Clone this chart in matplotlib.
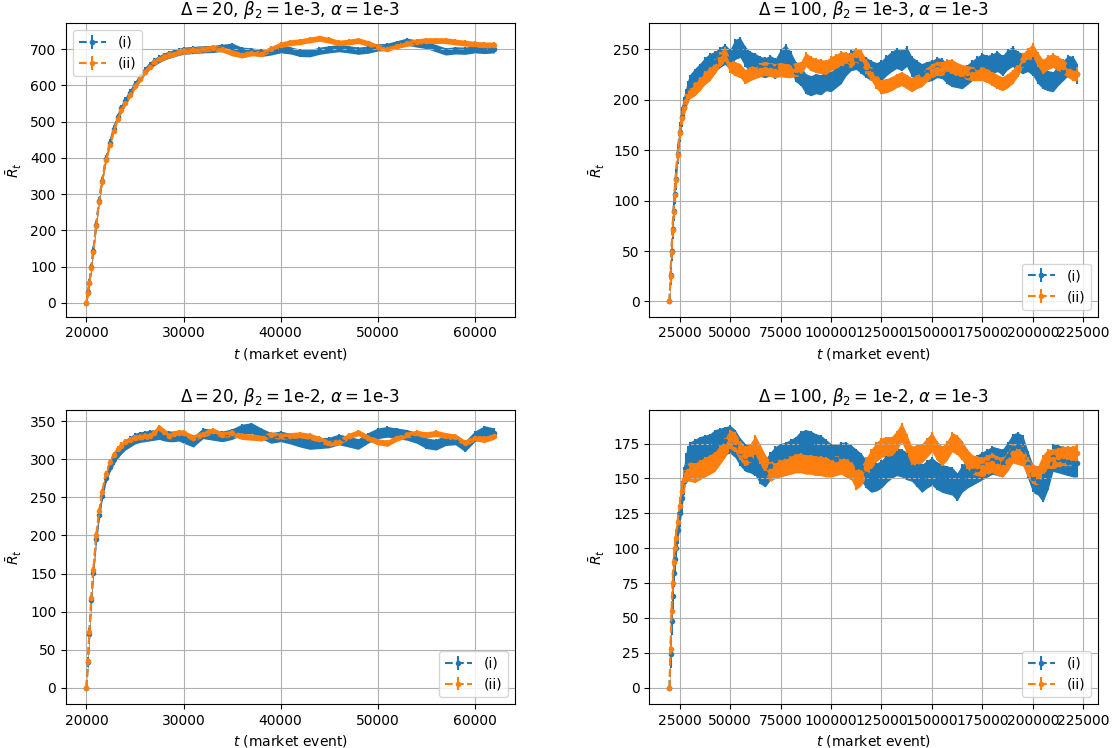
import matplotlib
matplotlib.use("Agg")
import matplotlib.pyplot as plt
import numpy as np

# ---------------------------------------------------------------
# Time grids (market events)
# ---------------------------------------------------------------
t_delta20 = [20000, 20150, 20300, 20500, 20700, 21000, 21300, 21600, 22000,
             22400, 22800, 23200, 23600, 24000, 24500, 25000, 25500, 26000,
             26500, 27000, 27500, 28000, 28500, 29000, 29500, 30000,
             31000, 32000, 33000, 34000, 35000, 36000, 37000, 38000, 39000,
             40000, 41000, 42000, 43000, 44000, 45000, 46000, 47000, 48000,
             49000, 50000, 51000, 52000, 53000, 54000, 55000, 56000, 57000,
             58000, 59000, 60000, 61000, 62000]

t_delta100 = [20000, 20500, 21000, 21500, 22000, 22500, 23000, 24000, 25000,
              26000, 27000, 28000, 29000, 30000,
              32500, 35000, 37500, 40000, 42500, 45000, 47500, 50000, 52500,
              55000, 57500, 60000, 62500, 65000, 67500, 70000, 72500, 75000,
              77500, 80000, 82500, 85000, 87500, 90000, 92500, 95000, 97500,
              100000, 102500, 105000, 107500, 110000, 112500, 115000, 117500,
              120000, 122500, 125000, 127500, 130000, 132500, 135000, 137500,
              140000, 142500, 145000, 147500, 150000, 152500, 155000, 157500,
              160000, 162500, 165000, 167500, 170000, 172500, 175000, 177500,
              180000, 182500, 185000, 187500, 190000, 192500, 195000, 197500,
              200000, 202500, 205000, 207500, 210000, 212500, 215000, 217500,
              220000, 222000]

# ---------------------------------------------------------------
# Average reward, Delta = 20, beta_2 = 1e-3
# ---------------------------------------------------------------
r_d20_b3_i = [0, 29, 56, 98, 144, 216, 282, 337, 397, 441, 480, 512, 537,
              557, 580, 602, 621, 640, 654, 665, 673, 680, 685, 689, 693, 696,
              698, 700, 701, 704, 707, 696, 694, 690, 694, 700, 697, 690, 689,
              696, 700, 703, 700, 696, 699, 705, 707, 714, 721, 716, 712, 703,
              694, 697, 696, 700, 698, 700]
r_d20_b3_ii = [0, 28, 54, 96, 141, 213, 279, 334, 393, 436, 474, 507, 532,
               552, 575, 598, 617, 638, 652, 664, 672, 679, 684, 688, 692, 695,
               697, 700, 703, 700, 690, 684, 690, 688, 700, 712, 718, 721, 726,
               730, 725, 717, 720, 724, 716, 706, 702, 710, 716, 721, 724, 724,
               724, 720, 717, 714, 712, 712]
err_d20_b3_i = 10
err_d20_b3_ii = 8

# ---------------------------------------------------------------
# Average reward, Delta = 100, beta_2 = 1e-3
# ---------------------------------------------------------------
r_d100_b3_i = [0, 26, 50, 72, 90, 107, 121, 146, 168, 183, 193, 201, 209, 215,
               221, 226, 232, 236, 238, 242, 245, 240, 250, 252, 243, 238, 236,
               233, 232, 234, 231, 240, 245, 238, 228, 224, 216, 214, 216, 215,
               219, 218, 222, 226, 234, 239, 240, 236, 232, 229, 227, 229, 234,
               238, 241, 239, 243, 233, 229, 226, 228, 229, 232, 231, 226, 223,
               222, 221, 225, 229, 233, 236, 234, 236, 238, 234, 240, 243, 238,
               236, 238, 234, 226, 221, 219, 218, 224, 229, 234, 233, 226]
r_d100_b3_ii = [0, 25, 49, 71, 89, 106, 120, 145, 167, 182, 192, 199, 204, 208,
                211, 216, 222, 226, 233, 240, 245, 234, 231, 229, 223, 226, 228,
                230, 231, 230, 229, 230, 229, 229, 230, 231, 240, 236, 234, 233,
                232, 236, 238, 241, 240, 239, 244, 242, 233, 226, 218, 213, 214,
                216, 219, 221, 218, 215, 218, 220, 225, 229, 231, 231, 233, 233,
                230, 228, 227, 226, 226, 226, 224, 221, 218, 216, 219, 223, 230,
                239, 244, 249, 240, 233, 237, 239, 236, 233, 229, 226, 226]
err_d100_b3_i = 10
err_d100_b3_ii = 7

# ---------------------------------------------------------------
# Average reward, Delta = 20, beta_2 = 1e-2
# ---------------------------------------------------------------
r_d20_b2_i = [0, 34, 71, 115, 151, 195, 227, 252, 276, 290, 300, 308, 314,
              319, 323, 327, 329, 330, 331, 332, 333, 331, 330, 330, 331, 328,
              323, 334, 332, 330, 333, 339, 341, 334, 328, 330, 327, 323, 320,
              321, 322, 326, 323, 320, 328, 334, 336, 334, 332, 328, 321, 319,
              325, 326, 317, 330, 337, 334]
r_d20_b2_ii = [0, 35, 73, 118, 155, 200, 232, 257, 281, 296, 306, 313, 318,
               322, 325, 328, 329, 330, 330, 335, 341, 336, 330, 333, 335, 334,
               328, 333, 337, 332, 334, 330, 329, 328, 332, 330, 331, 332, 330,
               326, 321, 323, 330, 335, 328, 323, 321, 328, 332, 334, 332, 334,
               331, 329, 321, 328, 326, 330]
err_d20_b2_i = 7
err_d20_b2_ii = 4

# ---------------------------------------------------------------
# Average reward, Delta = 100, beta_2 = 1e-2
# ---------------------------------------------------------------
r_d100_b2_i = [0, 24, 48, 66, 82, 92, 100, 113, 125, 136, 148, 158, 163, 166,
               168, 170, 171, 172, 175, 176, 177, 178, 175, 169, 165, 164, 162,
               156, 154, 159, 163, 165, 166, 168, 170, 174, 175, 174, 172, 171,
               168, 165, 164, 166, 166, 164, 161, 158, 153, 150, 151, 153, 157,
               160, 162, 161, 159, 158, 154, 150, 153, 155, 152, 150, 149, 148,
               144, 150, 153, 155, 157, 159, 161, 163, 162, 161, 166, 172, 173,
               171, 160, 150, 148, 143, 152, 165, 164, 163, 162, 161, 161]
r_d100_b2_ii = [0, 28, 55, 75, 90, 100, 107, 119, 130, 141, 149, 153, 155, 155,
                154, 156, 158, 160, 162, 167, 172, 178, 176, 170, 166, 168, 174,
                167, 160, 155, 157, 158, 159, 160, 161, 161, 160, 160, 159, 159,
                158, 158, 159, 160, 158, 156, 149, 152, 158, 164, 169, 172, 173,
                173, 177, 183, 175, 166, 167, 168, 172, 176, 170, 166, 170, 176,
                174, 170, 164, 160, 159, 158, 160, 161, 159, 158, 162, 168, 167,
                166, 158, 153, 152, 160, 164, 164, 165, 166, 166, 166, 168]
err_d100_b2_i = 10
err_d100_b2_ii = 7

labels = ["(i)", "(ii)"]
colors = ["#1f77b4", "#ff7f0e"]

panels = [
    (t_delta20, (r_d20_b3_i, r_d20_b3_ii), (err_d20_b3_i, err_d20_b3_ii),
     r"$\Delta = 20$, $\beta_2 = $1e-3, $\alpha = $1e-3", (-38, 772), "upper left"),
    (t_delta100, (r_d100_b3_i, r_d100_b3_ii), (err_d100_b3_i, err_d100_b3_ii),
     r"$\Delta = 100$, $\beta_2 = $1e-3, $\alpha = $1e-3", (-15, 276), "lower right"),
    (t_delta20, (r_d20_b2_i, r_d20_b2_ii), (err_d20_b2_i, err_d20_b2_ii),
     r"$\Delta = 20$, $\beta_2 = $1e-2, $\alpha = $1e-3", (-21, 364), "lower right"),
    (t_delta100, (r_d100_b2_i, r_d100_b2_ii), (err_d100_b2_i, err_d100_b2_ii),
     r"$\Delta = 100$, $\beta_2 = $1e-2, $\alpha = $1e-3", (-11.6, 198.7), "lower right"),
]

fig, axes = plt.subplots(2, 2, figsize=(11.2, 7.48), dpi=100)
fig.subplots_adjust(left=0.059, right=0.98, top=0.969, bottom=0.059,
                    wspace=0.30, hspace=0.32)

for ax, (t, series, errs, title, ylim, loc) in zip(axes.flat, panels):
    t = np.asarray(t, dtype=float)
    for y, e, lab, c in zip(series, errs, labels, colors):
        y = np.asarray(y, dtype=float)
        # the spread cannot exceed the running mean itself near the start
        spread = np.minimum(e, y)
        ax.fill_between(t, y - spread, y + spread, color=c, lw=0)
        ax.errorbar(t, y, yerr=spread, fmt="--", marker=".", ms=6, lw=1.5,
                    elinewidth=1.5, color=c, ecolor=c, label=lab)
    ax.set_ylim(*ylim)
    ax.set_title(title)
    ax.set_xlabel(r"$t$ (market event)")
    ax.set_ylabel(r"$\bar{R}_t$")
    ax.grid(True)
    ax.legend(loc=loc)

fig.savefig("out.png", dpi=100)
